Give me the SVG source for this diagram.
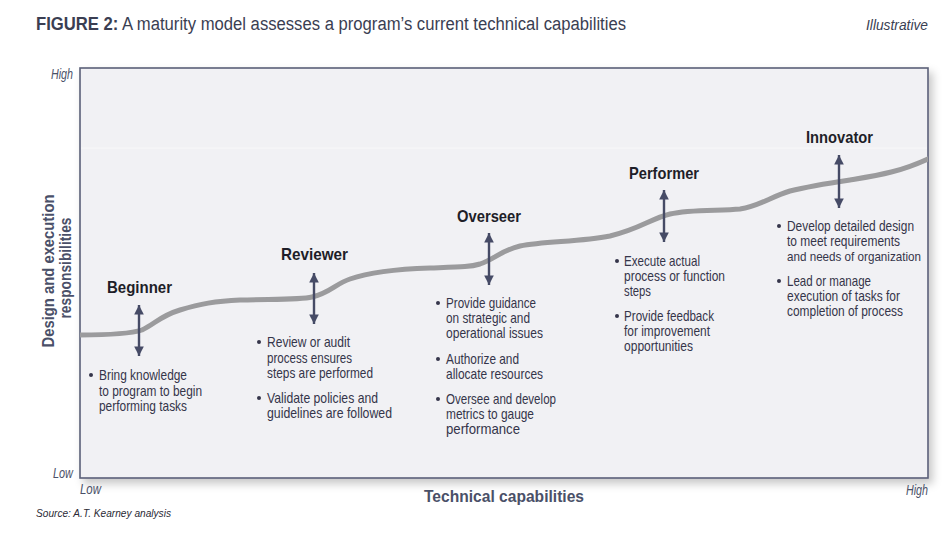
<svg xmlns="http://www.w3.org/2000/svg" width="950" height="536" viewBox="0 0 950 536">
<defs>
<style>
.t{font-family:"Liberation Sans",Arial,sans-serif;}
.title{font-size:18px;fill:#3a3e52;}
.ax{font-size:14px;font-style:italic;fill:#4a5068;}
.axb{font-size:17px;font-weight:bold;fill:#4a5068;}
.hd{font-size:17px;font-weight:bold;fill:#1e1e28;}
.bl{font-size:14.5px;fill:#35354a;}
.bul{fill:#35354a;}
.arr{stroke:#464b66;stroke-width:2.4;fill:none;marker-start:url(#ah);marker-end:url(#ah);}
</style>
<marker id="ah" viewBox="0 0 10 10" refX="10" refY="5" markerWidth="4.2" markerHeight="4" orient="auto-start-reverse" markerUnits="strokeWidth">
<path d="M0,0 L10,5 L0,10 Z" fill="#464b66"/>
</marker>
<filter id="sh" x="-5%" y="-5%" width="115%" height="120%">
<feDropShadow dx="4" dy="5" stdDeviation="4" flood-color="#000" flood-opacity="0.22"/>
</filter>
<clipPath id="bx"><rect x="80" y="68" width="848" height="410"/></clipPath>
</defs>
<rect width="950" height="536" fill="#ffffff"/>
<g id="title">
<text class="t title" x="36" y="30" textLength="590" lengthAdjust="spacingAndGlyphs"><tspan font-weight="bold">FIGURE 2:</tspan> A maturity model assesses a program’s current technical capabilities</text>
<text class="t" x="866" y="30" font-size="15" font-style="italic" fill="#3a3e52" textLength="62" lengthAdjust="spacingAndGlyphs">Illustrative</text>
</g>
<g id="chart">
<rect x="80" y="68" width="848" height="410" fill="#f1f1f4" stroke="#5a6078" stroke-width="1.6" filter="url(#sh)"/>
<line x1="81" y1="148" x2="927" y2="148" stroke="#ffffff" stroke-width="1" opacity="0.5"/>
<path clip-path="url(#bx)" d="M78,335 C110,335 130,334 142,330 C155,324 160,316 180,310 C200,304 215,301 240,300 C270,299 300,300 312,297 C330,293 335,284 350,279 C370,272 400,269 430,268 C460,267 470,267 480,264 C495,259 500,251 520,246 C545,241 580,242 610,236 C640,229 650,219 670,214 C690,209 720,211 740,209 C760,206 770,197 790,191 C810,186 830,183 850,180 C880,175 900,172 930,158" fill="none" stroke="#9b9b9d" stroke-width="5" stroke-linecap="round"/>
</g>
<g id="axes">
<text class="t ax" x="73" y="79" text-anchor="end" textLength="22" lengthAdjust="spacingAndGlyphs">High</text>
<text class="t ax" x="73" y="478" text-anchor="end" textLength="20" lengthAdjust="spacingAndGlyphs">Low</text>
<text class="t ax" x="80" y="494" textLength="21" lengthAdjust="spacingAndGlyphs">Low</text>
<text class="t ax" x="928" y="495" text-anchor="end" textLength="22" lengthAdjust="spacingAndGlyphs">High</text>
<text class="t axb" x="424" y="502" textLength="160" lengthAdjust="spacingAndGlyphs">Technical capabilities</text>
<text class="t axb" transform="translate(54,271) rotate(-90)" text-anchor="middle" textLength="153" lengthAdjust="spacingAndGlyphs">Design and execution</text>
<text class="t axb" transform="translate(71,268) rotate(-90)" text-anchor="middle" textLength="101" lengthAdjust="spacingAndGlyphs">responsibilities</text>
<text class="t" x="36" y="517" font-size="11.5" font-style="italic" fill="#2a2a35" textLength="135" lengthAdjust="spacingAndGlyphs">Source: A.T. Kearney analysis</text>
</g>
<g id="connectors">
<line class="arr" x1="139" y1="305" x2="139" y2="356"/>
<line class="arr" x1="314" y1="273" x2="314" y2="324"/>
<line class="arr" x1="489" y1="233" x2="489" y2="285"/>
<line class="arr" x1="664" y1="190" x2="664" y2="242"/>
<line class="arr" x1="839" y1="155" x2="839" y2="208"/>
</g>
<g id="beginner">
<text class="t hd" x="107" y="293" textLength="65" lengthAdjust="spacingAndGlyphs">Beginner</text>
<circle class="bul" cx="91" cy="375" r="2"/>
<text class="t bl" x="99" y="380" textLength="88" lengthAdjust="spacingAndGlyphs">Bring knowledge</text>
<text class="t bl" x="99" y="396" textLength="103" lengthAdjust="spacingAndGlyphs">to program to begin</text>
<text class="t bl" x="99" y="411" textLength="88" lengthAdjust="spacingAndGlyphs">performing tasks</text>
</g>
<g id="reviewer">
<text class="t hd" x="281" y="260" textLength="67" lengthAdjust="spacingAndGlyphs">Reviewer</text>
<circle class="bul" cx="259" cy="342" r="2"/>
<text class="t bl" x="267" y="347" textLength="83" lengthAdjust="spacingAndGlyphs">Review or audit</text>
<text class="t bl" x="267" y="363" textLength="85" lengthAdjust="spacingAndGlyphs">process ensures</text>
<text class="t bl" x="267" y="378" textLength="106" lengthAdjust="spacingAndGlyphs">steps are performed</text>
<circle class="bul" cx="259" cy="398" r="2"/>
<text class="t bl" x="267" y="403" textLength="111" lengthAdjust="spacingAndGlyphs">Validate policies and</text>
<text class="t bl" x="267" y="418" textLength="125" lengthAdjust="spacingAndGlyphs">guidelines are followed</text>
</g>
<g id="overseer">
<text class="t hd" x="457" y="222" textLength="64" lengthAdjust="spacingAndGlyphs">Overseer</text>
<circle class="bul" cx="438" cy="303" r="2"/>
<text class="t bl" x="446" y="308" textLength="90" lengthAdjust="spacingAndGlyphs">Provide guidance</text>
<text class="t bl" x="446" y="323" textLength="84" lengthAdjust="spacingAndGlyphs">on strategic and</text>
<text class="t bl" x="446" y="338" textLength="97" lengthAdjust="spacingAndGlyphs">operational issues</text>
<circle class="bul" cx="438" cy="359" r="2"/>
<text class="t bl" x="446" y="364" textLength="73" lengthAdjust="spacingAndGlyphs">Authorize and</text>
<text class="t bl" x="446" y="379" textLength="97" lengthAdjust="spacingAndGlyphs">allocate resources</text>
<circle class="bul" cx="438" cy="399" r="2"/>
<text class="t bl" x="446" y="404" textLength="110" lengthAdjust="spacingAndGlyphs">Oversee and develop</text>
<text class="t bl" x="446" y="419" textLength="88" lengthAdjust="spacingAndGlyphs">metrics to gauge</text>
<text class="t bl" x="446" y="434" textLength="74" lengthAdjust="spacingAndGlyphs">performance</text>
</g>
<g id="performer">
<text class="t hd" x="629" y="179" textLength="70" lengthAdjust="spacingAndGlyphs">Performer</text>
<circle class="bul" cx="617" cy="261" r="2"/>
<text class="t bl" x="624" y="266" textLength="76" lengthAdjust="spacingAndGlyphs">Execute actual</text>
<text class="t bl" x="624" y="281" textLength="101" lengthAdjust="spacingAndGlyphs">process or function</text>
<text class="t bl" x="624" y="296" textLength="27" lengthAdjust="spacingAndGlyphs">steps</text>
<circle class="bul" cx="617" cy="316" r="2"/>
<text class="t bl" x="624" y="321" textLength="90" lengthAdjust="spacingAndGlyphs">Provide feedback</text>
<text class="t bl" x="624" y="336" textLength="86" lengthAdjust="spacingAndGlyphs">for improvement</text>
<text class="t bl" x="624" y="351" textLength="69" lengthAdjust="spacingAndGlyphs">opportunities</text>
</g>
<g id="innovator">
<text class="t hd" x="806" y="143" textLength="67" lengthAdjust="spacingAndGlyphs">Innovator</text>
<circle class="bul" cx="779" cy="226" r="2"/>
<text class="t bl" x="787" y="231" textLength="127" lengthAdjust="spacingAndGlyphs">Develop detailed design</text>
<text class="t bl" x="787" y="246" textLength="113" lengthAdjust="spacingAndGlyphs">to meet requirements</text>
<text class="t bl" x="787" y="261" font-size="13.5" style="font-size:13.5px" textLength="134" lengthAdjust="spacingAndGlyphs">and needs of organization</text>
<circle class="bul" cx="779" cy="281" r="2"/>
<text class="t bl" x="787" y="286" textLength="84" lengthAdjust="spacingAndGlyphs">Lead or manage</text>
<text class="t bl" x="787" y="301" textLength="113" lengthAdjust="spacingAndGlyphs">execution of tasks for</text>
<text class="t bl" x="787" y="316" textLength="116" lengthAdjust="spacingAndGlyphs">completion of process</text>
</g>
</svg>
